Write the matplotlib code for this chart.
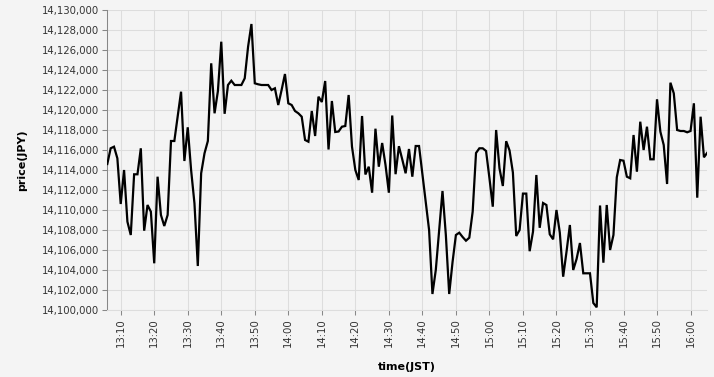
import matplotlib
matplotlib.use("Agg")
import matplotlib.pyplot as plt
import matplotlib.dates as mdates
import matplotlib.ticker as mticker
import pandas as pd

# one price per minute (JPY)
PRICES = [
    14114600, 14116170, 14116330, 14115170, 14110600, 14114000, 14108830, 14107500,
    14113570, 14113570, 14116170, 14107930, 14110500, 14109830, 14104670, 14113330,
    14109500, 14108400, 14109500, 14116900, 14116900, 14119330, 14121830, 14114900,
    14118270, 14114000, 14110670, 14104400, 14113670, 14115670, 14116900, 14124670,
    14119670, 14121900, 14126830, 14119620, 14122500, 14122930, 14122500, 14122500,
    14122500, 14123170, 14126330, 14128600, 14122670, 14122570, 14122500, 14122500,
    14122500, 14122000, 14122170, 14120500, 14122000, 14123600, 14120670, 14120500,
    14119900, 14119670, 14119330, 14117000, 14116830, 14119900, 14117400, 14121330,
    14120800, 14122900, 14116050, 14120900, 14117800, 14117850, 14118330, 14118400,
    14121500, 14116330, 14114000, 14113000, 14119400, 14113550, 14114330, 14111730,
    14118130, 14114330, 14116700, 14114500, 14111730, 14119450, 14113580, 14116380,
    14115050, 14113670, 14116100, 14113330, 14116400, 14116400, 14113600, 14110800,
    14108000, 14101600, 14104000, 14108000, 14111900, 14107500, 14101600, 14104800,
    14107500, 14107730, 14107300, 14106930, 14107230, 14109830, 14115700, 14116170,
    14116170, 14115900, 14113200, 14110330, 14118000, 14114170, 14112400, 14116880,
    14115960, 14113750, 14107400, 14108000, 14111640, 14111640, 14105880, 14107830,
    14113500, 14108220, 14110700, 14110500, 14107570, 14107070, 14110000, 14107730,
    14103330, 14105830, 14108500, 14104000, 14105100, 14106700, 14103670, 14103670,
    14103670, 14100700, 14100270, 14110450, 14104730, 14110500, 14106000, 14107500,
    14113270, 14115000, 14114930, 14113330, 14113170, 14117500, 14113830, 14118830,
    14116000, 14118330, 14115070, 14115070, 14121070, 14117830, 14116500, 14112600,
    14122730, 14121670, 14118000, 14117900, 14117900, 14117770, 14117900, 14120670,
    14111230, 14119330, 14115270, 14115730,
]
START = "2024-01-01 13:06"
Y_MIN, Y_MAX, Y_STEP = 14100000, 14130000, 2000
X_LABEL = "time(JST)"
Y_LABEL = "price(JPY)"

BG = "#f4f4f4"
GRID = "#dddddd"
DOMAIN = "#888888"
TEXT = "#333333"

times = pd.date_range(START, periods=len(PRICES), freq="1min")

fig = plt.figure(figsize=(7.14, 3.77), dpi=100, facecolor=BG)
ax = fig.add_axes([107.3 / 714, 1 - 310 / 377, 600 / 714, 300 / 377], facecolor=BG)

ax.plot(times, PRICES, color="black", linewidth=1.6, solid_joinstyle="miter", zorder=3)

ax.set_xlim(times[0], times[-1])
ax.set_ylim(Y_MIN, Y_MAX)
ax.yaxis.set_major_locator(mticker.MultipleLocator(Y_STEP))
ax.yaxis.set_major_formatter(mticker.StrMethodFormatter("{x:,.0f}"))
ax.xaxis.set_major_locator(mdates.MinuteLocator(byminute=range(0, 60, 10)))
ax.xaxis.set_major_formatter(mdates.DateFormatter("%H:%M"))

ax.grid(True, color=GRID, linewidth=0.75, zorder=0)
ax.set_axisbelow(True)
for side in ("top", "right"):
    ax.spines[side].set_visible(False)
ax.spines["left"].set_color(DOMAIN)
ax.spines["left"].set_linewidth(0.75)
ax.spines["bottom"].set_color(GRID)
ax.spines["bottom"].set_linewidth(0.75)

ax.tick_params(axis="both", colors=DOMAIN, labelcolor=TEXT, labelsize=7.3,
               length=3.6, width=0.75, pad=2)
ax.tick_params(axis="x", labelrotation=90)
for lbl in ax.get_xticklabels():
    lbl.set_verticalalignment("top")
    lbl.set_horizontalalignment("center")

ax.set_xlabel(X_LABEL, fontsize=8, fontweight="bold", color="black", labelpad=11)
ax.set_ylabel(Y_LABEL, fontsize=8, fontweight="bold", color="black", labelpad=11)

fig.savefig("out.png", dpi=100, facecolor=BG)
